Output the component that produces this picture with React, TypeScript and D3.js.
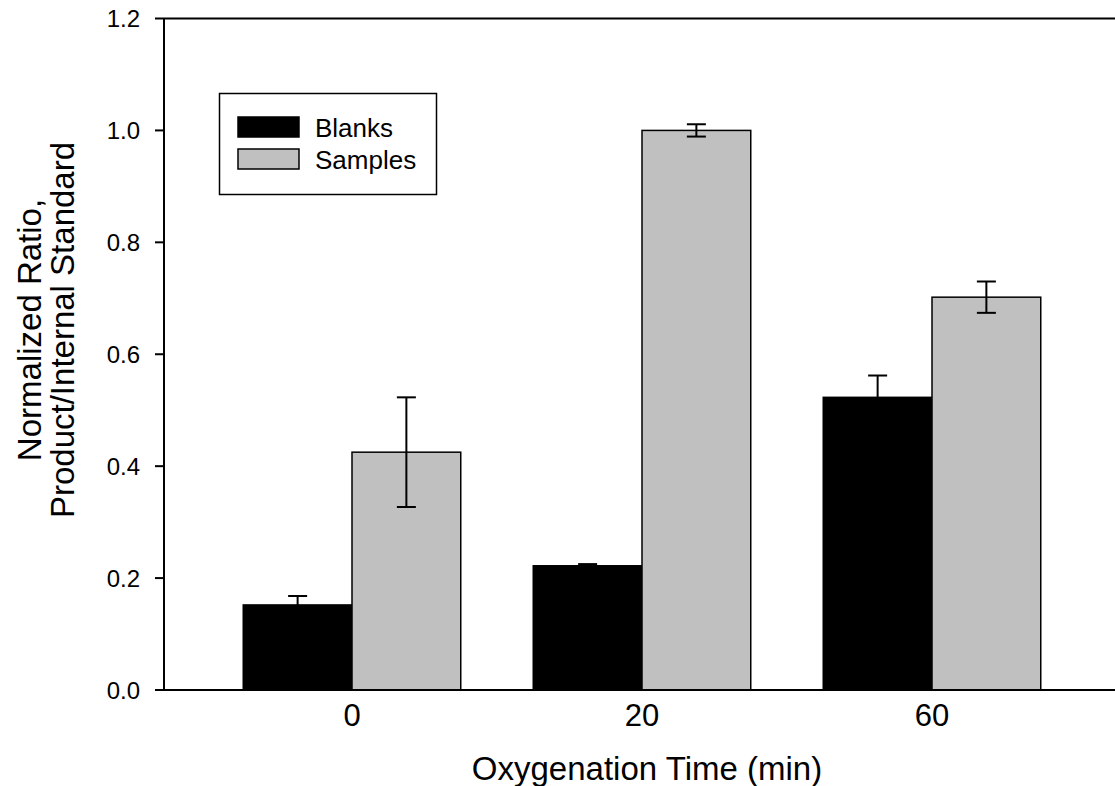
import React from "react";
import * as d3 from "d3";

const categories = ["0", "20", "60"];
const seriesNames = ["Blanks", "Samples"];
const blanks = [0.152, 0.222, 0.523];
const blanksErr = [0.016, 0.003, 0.039];
const samples = [0.425, 1.0, 0.702];
const samplesErr = [0.098, 0.011, 0.028];
const yTicks = [0.0, 0.2, 0.4, 0.6, 0.8, 1.0, 1.2];
const colors = ["#000000", "#c0c0c0"];

const W = 1115;
const H = 786;
const left = 164;
const top = 18.5;
const bottom = 690;
const FONT = "Liberation Sans, Arial, sans-serif";

export default function App() {
  const y = d3.scaleLinear().domain([0, 1.2]).range([bottom, top]);
  const x = d3
    .scaleBand<string>()
    .domain(categories)
    .range([207, 1077])
    .paddingInner(0.25)
    .paddingOuter(0.125);
  const xs = d3.scaleBand<string>().domain(seriesNames).range([0, x.bandwidth()]);
  const series = [
    { name: seriesNames[0], vals: blanks, errs: blanksErr, color: colors[0] },
    { name: seriesNames[1], vals: samples, errs: samplesErr, color: colors[1] },
  ];
  const cap = 9.5;
  return (
    <svg
      width={W}
      height={H}
      style={{ position: "absolute", left: 0, top: 0, background: "#fff" }}
      fontFamily={FONT}
    >
      <line x1={left} x2={W} y1={top} y2={top} stroke="#000" strokeWidth={2} />
      <line x1={left} x2={left} y1={top} y2={bottom} stroke="#000" strokeWidth={2} />
      {series.map((s) =>
        categories.map((c, i) => {
          const bx = (x(c) as number) + (xs(s.name) as number);
          return (
            <rect
              key={s.name + c}
              x={bx}
              y={y(s.vals[i])}
              width={xs.bandwidth()}
              height={y(0) - y(s.vals[i])}
              fill={s.color}
              stroke="#000"
              strokeWidth={1.5}
            />
          );
        })
      )}
      {series.map((s) =>
        categories.map((c, i) => {
          const cx = (x(c) as number) + (xs(s.name) as number) + xs.bandwidth() / 2;
          const hi = y(s.vals[i] + s.errs[i]);
          const lo = y(s.vals[i] - s.errs[i]);
          return (
            <g key={"e" + s.name + c} stroke="#000" strokeWidth={2}>
              <line x1={cx} x2={cx} y1={hi} y2={lo} />
              <line x1={cx - cap} x2={cx + cap} y1={hi} y2={hi} />
              <line x1={cx - cap} x2={cx + cap} y1={lo} y2={lo} />
            </g>
          );
        })
      )}
      <line x1={155} x2={W} y1={bottom} y2={bottom} stroke="#000" strokeWidth={2} />
      {yTicks.map((t) => (
        <g key={t}>
          <line x1={155} x2={left} y1={y(t)} y2={y(t)} stroke="#000" strokeWidth={2} />
          <text x={140} y={y(t)} dy="0.36em" textAnchor="end" fontSize={24}>
            {t.toFixed(1)}
          </text>
        </g>
      ))}
      {categories.map((c) => (
        <text
          key={c}
          x={(x(c) as number) + x.bandwidth() / 2}
          y={726}
          textAnchor="middle"
          fontSize={31}
        >
          {c}
        </text>
      ))}
      <text x={647} y={780} textAnchor="middle" fontSize={33}>
        Oxygenation Time (min)
      </text>
      <g transform="translate(41,330) rotate(-90)">
        <text x={0} y={0} textAnchor="middle" fontSize={33}>
          Normalized Ratio,
        </text>
        <text x={0} y={33} textAnchor="middle" fontSize={33}>
          Product/Internal Standard
        </text>
      </g>
      <rect x={219.5} y={93.5} width={217} height={101} fill="#fff" stroke="#000" strokeWidth={1.5} />
      {series.map((s, i) => (
        <g key={"lg" + s.name}>
          <rect
            x={238}
            y={117 + i * 32}
            width={61}
            height={20}
            fill={s.color}
            stroke="#000"
            strokeWidth={1.5}
          />
          <text x={315} y={137 + i * 32} fontSize={26}>
            {s.name}
          </text>
        </g>
      ))}
    </svg>
  );
}
